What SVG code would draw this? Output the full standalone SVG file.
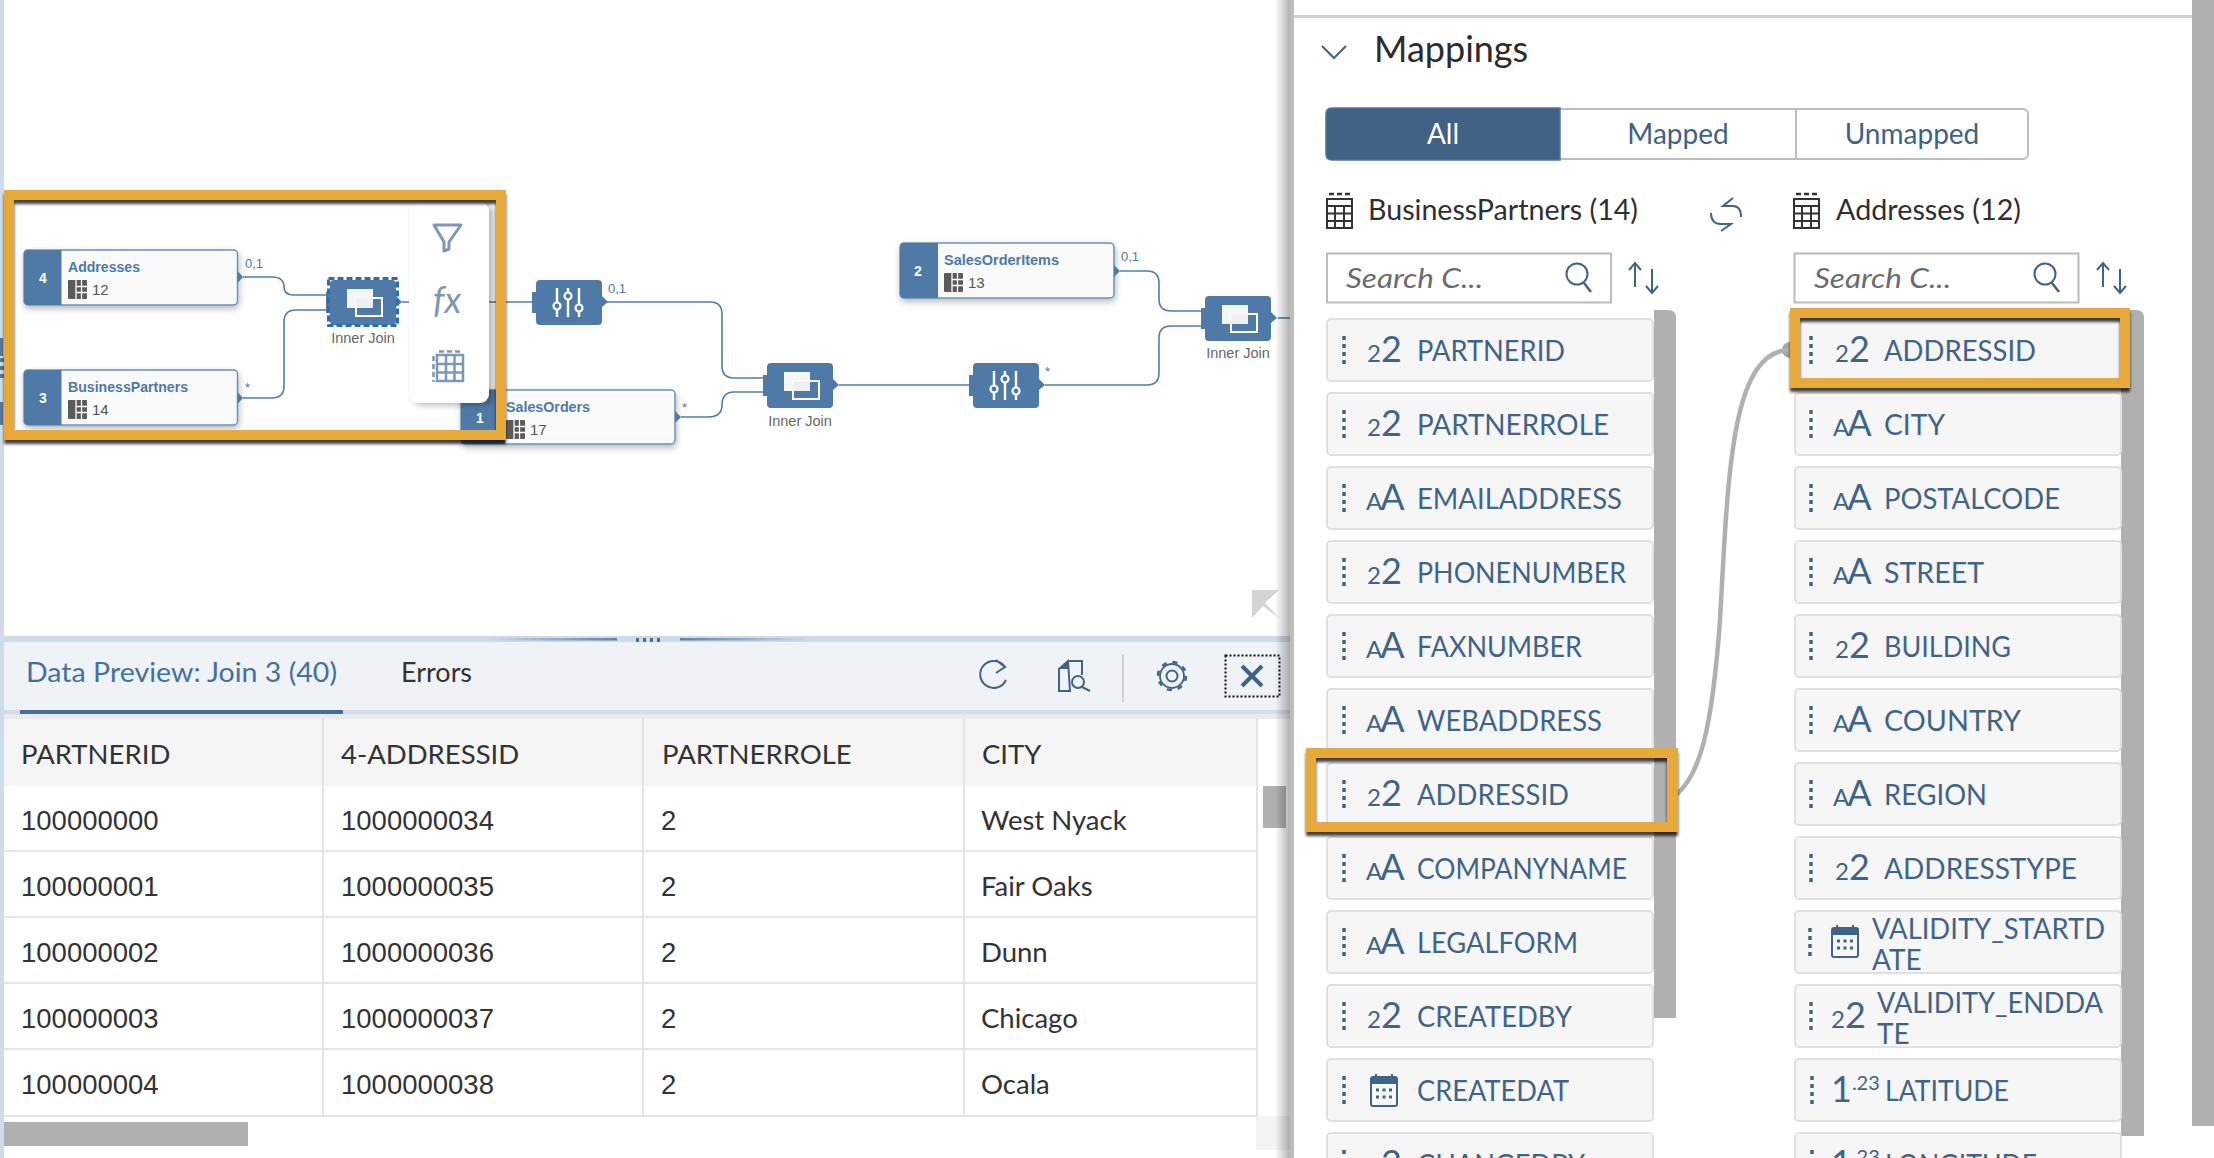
<svg xmlns="http://www.w3.org/2000/svg" xmlns:xlink="http://www.w3.org/1999/xlink" width="2214" height="1158" viewBox="0 0 2214 1158">
<style>
text{font-family:Lato,"Liberation Sans",sans-serif}
.conn{fill:none;stroke:#4f7dac;stroke-width:1.6}
.tri{fill:#4f7aa8}
.nbox{fill:#fafafa;stroke:#6a92bd;stroke-width:1.5}
.nhead{fill:#4f7aa8}
.num{font-family:"Liberation Sans",sans-serif;font-size:14px;font-weight:bold;fill:#fff;text-anchor:middle}
.ttl{font-family:"Liberation Sans",sans-serif;font-size:14px;font-weight:bold;fill:#4d79a8}
.cnt{font-family:"Liberation Sans",sans-serif;font-size:15px;fill:#555}
.card{font-family:"Liberation Sans",sans-serif;font-size:13px;fill:#4d79a8}
.lbl{font-family:"Liberation Sans",sans-serif;font-size:14.500px;fill:#666;text-anchor:middle}
.cell{font-size:27.500px;fill:#333}
.dig{font-family:"Liberation Sans",sans-serif;font-size:27.500px;fill:#333}
.grid{stroke:#e4e4e4;stroke-width:2;fill:none}
.row{fill:#f6f6f6;stroke:#e0e0e0;stroke-width:2}
.ft{font-size:28px;fill:#3f6489;transform:translateY(.7px)}
.ic{font-size:36px;font-weight:400;fill:#3f6489}
.ic tspan{font-size:24px}
.dots{stroke:#3f6489;stroke-width:3.5;stroke-dasharray:4 4;fill:none}
.sb{fill:#b0b0b0}
.ln{fill:none;stroke:#3f6489;stroke-width:2}
.tog{font-size:28px;fill:#3e6289;text-anchor:middle}
.hd{font-size:28px;fill:#2f2f2f}
.srch{font-size:27px;font-style:italic;fill:#6a6d70}
.pop{fill:none;stroke:#7d97b5;stroke-width:3}
</style>
<defs>
<filter id="sh" x="-20%" y="-30%" width="140%" height="170%"><feDropShadow dx="1" dy="3" stdDeviation="3" flood-color="#000" flood-opacity=".28"/></filter>
<filter id="fr" x="-5%" y="-10%" width="110%" height="120%"><feDropShadow dx="0" dy="4" stdDeviation="1.8" flood-color="#000" flood-opacity=".75"/></filter>
<filter id="ps" x="-30%" y="-10%" width="170%" height="120%"><feDropShadow dx="4" dy="2" stdDeviation="3" flood-color="#000" flood-opacity=".3"/></filter>
<linearGradient id="fadeL"><stop offset="0" stop-color="#5a84ad" stop-opacity="0"/><stop offset="1" stop-color="#5a84ad"/></linearGradient>
<linearGradient id="fadeR"><stop offset="0" stop-color="#5a84ad"/><stop offset="1" stop-color="#5a84ad" stop-opacity="0"/></linearGradient>
<linearGradient id="pshadow"><stop offset="0" stop-color="#000" stop-opacity="0"/><stop offset="1" stop-color="#000" stop-opacity=".3"/></linearGradient>
<g id="tbl"><rect width="19" height="19" rx="1" fill="#5a5a5a"/><path d="M8 0V19M13.500 0V19M8 6.500H19M8 12.500H19" stroke="#fff" stroke-width="1.300"/></g>
<g id="join"><rect width="66" height="45" rx="4" fill="#4f7aa8"/><rect x="-4" y="12" width="5" height="21" fill="#4f7aa8"/><path d="M66 16L72 22L66 27Z" fill="#4f7aa8"/><rect x="17" y="9" width="26" height="19" fill="#f5f6f8"/><rect x="26" y="18" width="26" height="18" fill="none" stroke="#fff" stroke-width="2"/><path d="M26 18H43V28H26Z" fill="#eef0f3"/></g>
<g id="proj"><rect width="66" height="45" rx="4" fill="#4f7aa8"/><rect x="-4" y="12" width="5" height="21" fill="#4f7aa8"/><path d="M66 16L72 22L66 27Z" fill="#4f7aa8"/><path d="M21 8V37M32 8V37M43 8V37" stroke="#fff" stroke-width="2.400"/><circle cx="21" cy="26" r="3.500" fill="#4f7aa8" stroke="#fff" stroke-width="2.200"/><circle cx="32" cy="16" r="3.500" fill="#4f7aa8" stroke="#fff" stroke-width="2.200"/><circle cx="43" cy="28" r="3.500" fill="#4f7aa8" stroke="#fff" stroke-width="2.200"/></g>
<g id="cal"><rect x="1" y="3" width="26" height="29" rx="2" fill="none" stroke="#3f6489" stroke-width="2"/><rect x="1" y="3" width="26" height="7" fill="#3f6489"/><path d="M6 0V4M22 0V4" stroke="#3f6489" stroke-width="2"/><path d="M6 16H22M6 23H22" stroke="#3f6489" stroke-width="3" stroke-dasharray="3 3.500"/></g>
<g id="gridic"><path d="M0 0H25V29H0ZM0 7H25M0 14.500H25M0 22H25M8 7V29M17 7V29" fill="none" stroke="#333" stroke-width="2"/><path d="M2 -5H23" stroke="#333" stroke-width="2.500" stroke-dasharray="5 3"/></g>
<g id="mag"><circle cx="0" cy="0" r="10.500" fill="none" stroke="#3f6489" stroke-width="2"/><path d="M7 9L14 18" stroke="#3f6489" stroke-width="2.500"/></g>
<g id="sort"><path d="M0 24V0M-6 7L0 0L6 7M17 6V30M11 23L17 30L23 23" fill="none" stroke="#3f6489" stroke-width="2"/></g>
</defs>

<rect width="2214" height="1158" fill="#fff"/>
<rect width="4" height="1158" fill="#d0dcea"/>
<path d="M0 338H3V356H0ZM0 358H4V362H0ZM0 366H4V370H0ZM0 374H4V378H0ZM0 402H3V425H0Z" fill="#56789d"/>

<g id="connectors">
<path class="conn" d="M243 277H272Q284 277 284 287Q284 295 294 295H327"/>
<path class="conn" d="M243 398H272Q284 398 284 386V322Q284 310 296 310H327"/>
<path class="conn" d="M402 302H535"/>
<path class="conn" d="M607 302H710Q722 302 722 314V366Q722 378 734 378H764"/>
<path class="conn" d="M681 417H708Q722 417 722 405Q722 392 734 392H764"/>
<path class="conn" d="M839 385H969"/>
<path class="conn" d="M1045 385H1147Q1159 385 1159 373V338Q1159 326 1171 326H1202"/>
<path class="conn" d="M1120 271H1147Q1159 271 1159 283V299Q1159 311 1171 311H1202"/>
<path class="conn" d="M1278 318H1291"/>
</g>

<g id="node-salesorders"><rect class="nbox" x="461" y="390" width="214" height="54" rx="4" filter="url(#sh)"/><path class="nhead" d="M465 390H505V444H465Q461 444 461 440V394Q461 390 465 390Z"/><text class="num" x="480" y="423">1</text><text class="ttl" x="506" y="412" textLength="84" lengthAdjust="spacingAndGlyphs">SalesOrders</text><use href="#tbl" x="506" y="420"/><text class="cnt" x="530" y="435">17</text><path class="tri" d="M675 411L681 417L675 423Z"/><text class="card" x="682" y="412">*</text></g>

<g id="node-addresses"><rect class="nbox" x="24" y="250" width="213.500" height="55" rx="4" filter="url(#sh)"/><path class="nhead" d="M28 250H61.500V305H28Q24 305 24 301V254Q24 250 28 250Z"/><text class="num" x="43" y="283">4</text><text class="ttl" x="68" y="272" textLength="72" lengthAdjust="spacingAndGlyphs">Addresses</text><use href="#tbl" x="68" y="280"/><text class="cnt" x="92" y="295">12</text><path class="tri" d="M237.500 271L243 277L237.500 283Z"/><text class="card" x="245" y="268">0,1</text></g>
<g id="node-businesspartners"><rect class="nbox" x="24" y="370" width="213.500" height="55" rx="4" filter="url(#sh)"/><path class="nhead" d="M28 370H61.500V425H28Q24 425 24 421V374Q24 370 28 370Z"/><text class="num" x="43" y="403">3</text><text class="ttl" x="68" y="392" textLength="120" lengthAdjust="spacingAndGlyphs">BusinessPartners</text><use href="#tbl" x="68" y="400"/><text class="cnt" x="92" y="415">14</text><path class="tri" d="M237.500 392L243 398L237.500 404Z"/><text class="card" x="245" y="392">*</text></g>
<g id="node-salesorderitems"><rect class="nbox" x="900" y="243" width="214" height="55" rx="4" filter="url(#sh)"/><path class="nhead" d="M904 243H938V298H904Q900 298 900 294V247Q900 243 904 243Z"/><text class="num" x="918" y="276">2</text><text class="ttl" x="944" y="265" textLength="115" lengthAdjust="spacingAndGlyphs">SalesOrderItems</text><use href="#tbl" x="944" y="273"/><text class="cnt" x="968" y="288">13</text><path class="tri" d="M1114 265L1120 271L1114 277Z"/><text class="card" x="1121" y="261">0,1</text></g>

<g id="node-join1"><use href="#join" x="330" y="280"/><rect x="328.500" y="278.500" width="69" height="47" fill="none" stroke="#2a6db0" stroke-width="3" stroke-dasharray="6 3"/><text class="lbl" x="363" y="343">Inner Join</text></g>
<g id="node-proj1"><use href="#proj" x="536" y="280"/><text class="card" x="608" y="293">0,1</text></g>
<g id="node-join2"><use href="#join" x="767" y="363"/><text class="lbl" x="800" y="426">Inner Join</text></g>
<g id="node-proj2"><use href="#proj" x="973" y="363"/><text class="card" x="1045" y="376">*</text></g>
<g id="node-join3"><use href="#join" x="1205" y="296"/><text class="lbl" x="1238" y="358">Inner Join</text></g>

<g id="popup"><rect x="409" y="202" width="80" height="201" rx="9" fill="#fff" filter="url(#ps)"/>
<path class="pop" d="M434 225H461L449 242V249L444 251V242Z" stroke-linejoin="round"/>
<text x="433" y="313" font-family="Liberation Serif,serif" font-style="italic" font-size="36" fill="#7d97b5">fx</text>
<path d="M437 355H463V381H437ZM437 364H463M437 372.500H463M446 355V381M454.500 355V381" fill="none" stroke="#7d97b5" stroke-width="2.500"/><path d="M439 351.500H463M433.500 356V382" fill="none" stroke="#7d97b5" stroke-width="2.500" stroke-dasharray="5 3"/></g>

<g id="frame-left"><path fill-rule="evenodd" fill="#e8a93a" filter="url(#fr)" d="M4 190H506V440H4ZM14 200V430H496V200Z"/></g>

<path d="M1252 590H1279L1265 603L1279 618L1263 606L1252 618Z" fill="#d4d4d4"/>

<g id="preview">
<rect x="4" y="636" width="1288" height="6" fill="#cddae7"/>
<rect x="490" y="638" width="127" height="2.500" fill="url(#fadeL)"/><rect x="680" y="638" width="129" height="2.500" fill="url(#fadeR)"/>
<path d="M636 640H662" stroke="#4a6f96" stroke-width="4" stroke-dasharray="3 4"/>
<rect x="4" y="642" width="1288" height="68" fill="#eff3f8"/>
<rect x="4" y="710" width="1288" height="4" fill="#d2deec"/><rect x="20" y="710" width="323" height="4" fill="#46709a"/>
<rect x="4" y="714" width="1288" height="5" fill="#ebebeb"/>
<text x="26" y="682" font-size="27" fill="#44709d" textLength="311" lengthAdjust="spacingAndGlyphs">Data Preview: Join 3 (40)</text>
<text x="401" y="682" font-size="27" fill="#333">Errors</text>
<path d="M1005 667A13.500 13.500 0 1 0 1006 680M996 660L1005 667L996 673" fill="none" stroke="#3f6489" stroke-width="2"/>
<path d="M1069 661H1082V675M1070 691H1059V669L1068 661Z" fill="none" stroke="#3f6489" stroke-width="2"/><path d="M1059 669L1068 661V669Z" fill="#3f6489"/><circle cx="1078" cy="682" r="6" fill="none" stroke="#3f6489" stroke-width="2"/><path d="M1082 687L1090 691" stroke="#3f6489" stroke-width="2"/>
<rect x="1122" y="654" width="2" height="48" fill="#ccd2d8"/>
<circle cx="1172" cy="676" r="5.500" fill="none" stroke="#3f6489" stroke-width="2"/><circle cx="1172" cy="676" r="12" fill="none" stroke="#3f6489" stroke-width="1.800"/><circle cx="1172" cy="676" r="14" fill="none" stroke="#3f6489" stroke-width="2.500" stroke-dasharray="5 6"/>
<rect x="1225.500" y="655.500" width="54" height="41" fill="none" stroke="#111" stroke-width="2" stroke-dasharray="2 2"/>
<path d="M1242 666L1262 686M1262 666L1242 686" stroke="#3f6489" stroke-width="4"/>
<rect x="4" y="719" width="1253" height="67" fill="#f5f5f5"/>
<rect x="1256" y="1116" width="34" height="34" fill="#f4f4f4"/>
<path class="grid" d="M323 719V1116M643 719V1116M964 719V1116M1257 719V1116M4 851H1257M4 917H1257M4 983H1257M4 1049H1257M4 1116H1257"/>
<rect class="sb" x="1263" y="786" width="23" height="42"/>
<rect class="sb" x="4" y="1122" width="244" height="24"/>
<text class="cell" x="21" y="764">PARTNERID</text><text class="cell" x="341" y="764">4-ADDRESSID</text><text class="cell" x="662" y="764">PARTNERROLE</text><text class="cell" x="982" y="764">CITY</text>
<text class="dig" x="21" y="830">100000000</text><text class="dig" x="341" y="830">1000000034</text><text class="dig" x="661" y="830">2</text><text class="cell" x="981" y="830">West Nyack</text>
<text class="dig" x="21" y="896">100000001</text><text class="dig" x="341" y="896">1000000035</text><text class="dig" x="661" y="896">2</text><text class="cell" x="981" y="896">Fair Oaks</text>
<text class="dig" x="21" y="962">100000002</text><text class="dig" x="341" y="962">1000000036</text><text class="dig" x="661" y="962">2</text><text class="cell" x="981" y="962">Dunn</text>
<text class="dig" x="21" y="1028">100000003</text><text class="dig" x="341" y="1028">1000000037</text><text class="dig" x="661" y="1028">2</text><text class="cell" x="981" y="1028">Chicago</text>
<text class="dig" x="21" y="1094">100000004</text><text class="dig" x="341" y="1094">1000000038</text><text class="dig" x="661" y="1094">2</text><text class="cell" x="981" y="1094">Ocala</text>
</g>

<rect x="1275" y="0" width="15" height="1158" fill="url(#pshadow)"/>
<g id="mappings-panel">
<rect x="1290" y="0" width="924" height="1158" fill="#fff"/>
<rect x="1290" y="0" width="4" height="1158" fill="#bdbdbd"/>
<rect x="1294" y="15" width="898" height="3" fill="#d0d0d0"/>
<rect class="sb" x="2192" y="0" width="22" height="1126"/>
<path d="M1322 46L1334 58L1346 46" fill="none" stroke="#3f6489" stroke-width="2"/>
<text x="1374" y="62" font-size="36" fill="#2b2b2b">Mappings</text>
<rect x="1327" y="109" width="701" height="50" rx="5" fill="#fff" stroke="#bdbdbd" stroke-width="2"/>
<path d="M1560 108H1332Q1326 108 1326 114V154Q1326 160 1332 160H1560Z" fill="#426285" stroke="#4a76a5" stroke-width="1.500"/>
<path d="M1796 109V159" stroke="#bdbdbd" stroke-width="2"/>
<text x="1443" y="144" font-size="28" fill="#fff" text-anchor="middle">All</text>
<text class="tog" x="1678" y="144">Mapped</text><text class="tog" x="1912" y="144">Unmapped</text>
<use href="#gridic" x="1327" y="199"/><text class="hd" x="1368" y="220" textLength="270" lengthAdjust="spacingAndGlyphs">BusinessPartners (14)</text>
<use href="#gridic" x="1794" y="199"/><text class="hd" x="1836" y="220" textLength="185" lengthAdjust="spacingAndGlyphs">Addresses (12)</text>
<path d="M1733 198L1723 206H1733Q1741 206 1741 217M1721 231L1731 224H1721Q1711 224 1711 213" fill="none" stroke="#3f6489" stroke-width="2"/>
<rect x="1327" y="253.500" width="284" height="49" fill="#fff" stroke="#bbb" stroke-width="2"/><text class="srch" x="1346" y="288" textLength="137" lengthAdjust="spacingAndGlyphs">Search C...</text><use href="#mag" x="1577" y="274"/><use href="#sort" x="1635" y="263"/>
<rect x="1794.500" y="253.500" width="284" height="49" fill="#fff" stroke="#bbb" stroke-width="2"/><text class="srch" x="1814" y="288" textLength="137" lengthAdjust="spacingAndGlyphs">Search C...</text><use href="#mag" x="2045" y="274"/><use href="#sort" x="2103" y="263"/>
<path class="sb" d="M1654 310H1668Q1676 310 1676 318V1018H1654Z"/>
<path class="sb" d="M2121 310H2136Q2144 310 2144 318V1136H2121Z"/>
<circle cx="1790" cy="350" r="8" fill="#a8a8a8"/>
</g>

<g id="fields-left">
<g id="l1"><rect class="row" x="1327" y="319" width="326" height="62" rx="4"/><path class="dots" d="M1344 336V364"/><text class="ic" x="1367" y="362"><tspan>2</tspan>2</text><text class="ft" x="1417" y="360" textLength="148" lengthAdjust="spacingAndGlyphs">PARTNERID</text></g>
<g id="l2"><rect class="row" x="1327" y="393" width="326" height="62" rx="4"/><path class="dots" d="M1344 410V438"/><text class="ic" x="1367" y="436"><tspan>2</tspan>2</text><text class="ft" x="1417" y="434" textLength="192" lengthAdjust="spacingAndGlyphs">PARTNERROLE</text></g>
<g id="l3"><rect class="row" x="1327" y="467" width="326" height="62" rx="4"/><path class="dots" d="M1344 484V512"/><text class="ic" x="1366" y="510" letter-spacing="-2"><tspan>A</tspan>A</text><text class="ft" x="1417" y="508" textLength="205" lengthAdjust="spacingAndGlyphs">EMAILADDRESS</text></g>
<g id="l4"><rect class="row" x="1327" y="541" width="326" height="62" rx="4"/><path class="dots" d="M1344 558V586"/><text class="ic" x="1367" y="584"><tspan>2</tspan>2</text><text class="ft" x="1417" y="582" textLength="209" lengthAdjust="spacingAndGlyphs">PHONENUMBER</text></g>
<g id="l5"><rect class="row" x="1327" y="615" width="326" height="62" rx="4"/><path class="dots" d="M1344 632V660"/><text class="ic" x="1366" y="658" letter-spacing="-2"><tspan>A</tspan>A</text><text class="ft" x="1417" y="656" textLength="165" lengthAdjust="spacingAndGlyphs">FAXNUMBER</text></g>
<g id="l6"><rect class="row" x="1327" y="689" width="326" height="62" rx="4"/><path class="dots" d="M1344 706V734"/><text class="ic" x="1366" y="732" letter-spacing="-2"><tspan>A</tspan>A</text><text class="ft" x="1417" y="730" textLength="185" lengthAdjust="spacingAndGlyphs">WEBADDRESS</text></g>
<g id="l7"><rect class="row" x="1327" y="763" width="326" height="62" rx="4"/><path class="dots" d="M1344 780V808"/><text class="ic" x="1367" y="806"><tspan>2</tspan>2</text><text class="ft" x="1417" y="804" textLength="152" lengthAdjust="spacingAndGlyphs">ADDRESSID</text></g>
<g id="l8"><rect class="row" x="1327" y="837" width="326" height="62" rx="4"/><path class="dots" d="M1344 854V882"/><text class="ic" x="1366" y="880" letter-spacing="-2"><tspan>A</tspan>A</text><text class="ft" x="1417" y="878" textLength="210" lengthAdjust="spacingAndGlyphs">COMPANYNAME</text></g>
<g id="l9"><rect class="row" x="1327" y="911" width="326" height="62" rx="4"/><path class="dots" d="M1344 928V956"/><text class="ic" x="1366" y="954" letter-spacing="-2"><tspan>A</tspan>A</text><text class="ft" x="1417" y="952" textLength="161" lengthAdjust="spacingAndGlyphs">LEGALFORM</text></g>
<g id="l10"><rect class="row" x="1327" y="985" width="326" height="62" rx="4"/><path class="dots" d="M1344 1002V1030"/><text class="ic" x="1367" y="1028"><tspan>2</tspan>2</text><text class="ft" x="1417" y="1026" textLength="155" lengthAdjust="spacingAndGlyphs">CREATEDBY</text></g>
<g id="l11"><rect class="row" x="1327" y="1059" width="326" height="62" rx="4"/><path class="dots" d="M1344 1076V1104"/><use href="#cal" x="1370" y="1074"/><text class="ft" x="1417" y="1100" textLength="152" lengthAdjust="spacingAndGlyphs">CREATEDAT</text></g>
<g id="l12"><rect class="row" x="1327" y="1133" width="326" height="62" rx="4"/><path class="dots" d="M1344 1150V1178"/><text class="ic" x="1367" y="1176"><tspan>2</tspan>2</text><text class="ft" x="1417" y="1174" textLength="168" lengthAdjust="spacingAndGlyphs">CHANGEDBY</text></g>
</g>
<g id="fields-right">
<g id="r1"><rect class="row" x="1795" y="319" width="326" height="62" rx="4"/><path class="dots" d="M1811 336V364"/><text class="ic" x="1835" y="362"><tspan>2</tspan>2</text><text class="ft" x="1884" y="360" textLength="152" lengthAdjust="spacingAndGlyphs">ADDRESSID</text></g>
<g id="r2"><rect class="row" x="1795" y="393" width="326" height="62" rx="4"/><path class="dots" d="M1811 410V438"/><text class="ic" x="1833" y="436" letter-spacing="-2"><tspan>A</tspan>A</text><text class="ft" x="1884" y="434" textLength="61" lengthAdjust="spacingAndGlyphs">CITY</text></g>
<g id="r3"><rect class="row" x="1795" y="467" width="326" height="62" rx="4"/><path class="dots" d="M1811 484V512"/><text class="ic" x="1833" y="510" letter-spacing="-2"><tspan>A</tspan>A</text><text class="ft" x="1884" y="508" textLength="176" lengthAdjust="spacingAndGlyphs">POSTALCODE</text></g>
<g id="r4"><rect class="row" x="1795" y="541" width="326" height="62" rx="4"/><path class="dots" d="M1811 558V586"/><text class="ic" x="1833" y="584" letter-spacing="-2"><tspan>A</tspan>A</text><text class="ft" x="1884" y="582" textLength="100" lengthAdjust="spacingAndGlyphs">STREET</text></g>
<g id="r5"><rect class="row" x="1795" y="615" width="326" height="62" rx="4"/><path class="dots" d="M1811 632V660"/><text class="ic" x="1835" y="658"><tspan>2</tspan>2</text><text class="ft" x="1884" y="656" textLength="127" lengthAdjust="spacingAndGlyphs">BUILDING</text></g>
<g id="r6"><rect class="row" x="1795" y="689" width="326" height="62" rx="4"/><path class="dots" d="M1811 706V734"/><text class="ic" x="1833" y="732" letter-spacing="-2"><tspan>A</tspan>A</text><text class="ft" x="1884" y="730" textLength="137" lengthAdjust="spacingAndGlyphs">COUNTRY</text></g>
<g id="r7"><rect class="row" x="1795" y="763" width="326" height="62" rx="4"/><path class="dots" d="M1811 780V808"/><text class="ic" x="1833" y="806" letter-spacing="-2"><tspan>A</tspan>A</text><text class="ft" x="1884" y="804" textLength="103" lengthAdjust="spacingAndGlyphs">REGION</text></g>
<g id="r8"><rect class="row" x="1795" y="837" width="326" height="62" rx="4"/><path class="dots" d="M1811 854V882"/><text class="ic" x="1835" y="880"><tspan>2</tspan>2</text><text class="ft" x="1884" y="878" textLength="193" lengthAdjust="spacingAndGlyphs">ADDRESSTYPE</text></g>
<g id="r9"><rect class="row" x="1795" y="911" width="326" height="62" rx="4"/><path class="dots" d="M1810 928V956"/><use href="#cal" x="1831" y="925"/><text class="ft" x="1872" y="938" textLength="233" lengthAdjust="spacingAndGlyphs">VALIDITY_STARTD</text><text class="ft" x="1872" y="969">ATE</text></g>
<g id="r10"><rect class="row" x="1795" y="985" width="326" height="62" rx="4"/><path class="dots" d="M1811 1002V1030"/><text class="ic" x="1831" y="1028"><tspan>2</tspan>2</text><text class="ft" x="1877" y="1012" textLength="226" lengthAdjust="spacingAndGlyphs">VALIDITY_ENDDA</text><text class="ft" x="1877" y="1043">TE</text></g>
<g id="r11"><rect class="row" x="1795" y="1059" width="326" height="62" rx="4"/><path class="dots" d="M1812 1076V1104"/><text class="ic" x="1831" y="1102">1<tspan dy="-12" style="font-size:20px">.23</tspan></text><text class="ft" x="1885" y="1100" textLength="124" lengthAdjust="spacingAndGlyphs">LATITUDE</text></g>
<g id="r12"><rect class="row" x="1795" y="1133" width="326" height="62" rx="4"/><path class="dots" d="M1812 1150V1178"/><text class="ic" x="1831" y="1176">1<tspan dy="-12" style="font-size:20px">.23</tspan></text><text class="ft" x="1885" y="1174" textLength="152" lengthAdjust="spacingAndGlyphs">LONGITUDE</text></g>
</g>

<path id="mapping-line" d="M1676 795C1700 775 1712 730 1720 620C1728 480 1730 350 1790 350" fill="none" stroke="#b0b0b0" stroke-width="4.500"/>

<g id="frame-field-left"><path fill-rule="evenodd" fill="#e8a93a" filter="url(#fr)" d="M1306 748H1678V832H1306ZM1316 758V822H1667V758Z"/></g>
<g id="frame-field-right"><path fill-rule="evenodd" fill="#e8a93a" filter="url(#fr)" d="M1790 308H2130V388H1790ZM1800 318V378H2120V318Z"/></g>
</svg>
